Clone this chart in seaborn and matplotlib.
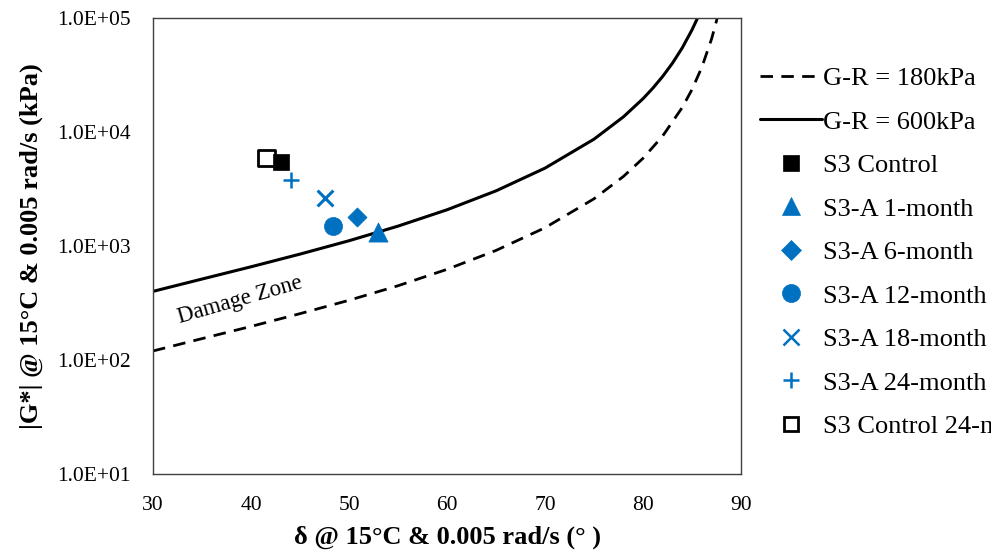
import matplotlib
matplotlib.use("Agg")
import matplotlib.pyplot as plt
import matplotlib.ticker as mticker
from matplotlib.lines import Line2D
import seaborn as sns
import pandas as pd

# G-R curves (phase angle in deg, |G*| in kPa)
gr180_delta = [30, 35, 40, 45, 50, 55, 60, 65, 70, 75, 78, 80, 82, 84, 85, 86, 87, 87.5, 87.7]
gr180_g = [120, 154, 197, 255, 334, 448, 624, 914, 1446, 2595, 4073, 5879, 9203, 16384, 23605, 36902, 65624, 94516, 111670]
gr600_delta = [30, 35, 40, 45, 50, 55, 60, 65, 70, 75, 78, 80, 81, 82, 83, 84, 85, 85.5, 85.7]
gr600_g = [400, 513, 657, 849, 1112, 1494, 2078, 3045, 4820, 8651, 13577, 19596, 24216, 30677, 40098, 54612, 78684, 97166, 106400]

# Sample points
sample_labels = ["S3 Control", "S3-A 1-month", "S3-A 6-month", "S3-A 12-month",
                 "S3-A 18-month", "S3-A 24-month", "S3 Control 24-month"]
sample_delta = [43.1, 53.0, 50.8, 48.4, 47.6, 44.1, 41.6]
sample_g = [5450, 1330, 1800, 1500, 2640, 3800, 5900]

x_ticks = [30, 40, 50, 60, 70, 80, 90]
y_ticks = [1e1, 1e2, 1e3, 1e4, 1e5]

BLUE = "#0070C0"
styles = [
    dict(marker="s", color="black", edgecolor="black", s=140, lw=0.5),
    dict(marker="^", color=BLUE, edgecolor=BLUE, s=190, lw=0.5),
    dict(marker="D", color=BLUE, edgecolor=BLUE, s=95, lw=0.5),
    dict(marker="o", color=BLUE, edgecolor=BLUE, s=170, lw=0.5),
    dict(marker="x", color=BLUE, s=130, lw=2.2),
    dict(marker="+", color=BLUE, s=140, lw=1.8),
    dict(marker="s", color="none", edgecolor="black", s=140, lw=2.0),
]

sns.set_theme(style="white")
plt.rcParams["font.family"] = ["Liberation Serif", "DejaVu Serif"]
for k in ["text.color", "axes.labelcolor", "xtick.color", "ytick.color"]:
    plt.rcParams[k] = "black"

fig = plt.figure(figsize=(9.91, 5.53), dpi=100)
ax = fig.add_axes([153 / 991, 1 - 474 / 553, (741 - 153) / 991, (474 - 18) / 553])

df180 = pd.DataFrame({"d": gr180_delta, "g": gr180_g})
df600 = pd.DataFrame({"d": gr600_delta, "g": gr600_g})
sns.lineplot(data=df180, x="d", y="g", ax=ax, color="black", lw=2.0,
             linestyle=(0, (4.5, 3)), sort=False, label="G-R = 180kPa")
sns.lineplot(data=df600, x="d", y="g", ax=ax, color="black", lw=2.2,
             sort=False, label="G-R = 600kPa")

order = [6, 0, 5, 4, 2, 3, 1]
for i in order:
    st = dict(styles[i])
    sdf = pd.DataFrame({"d": [sample_delta[i]], "g": [sample_g[i]]})
    if st["marker"] in ("x", "+"):
        sns.scatterplot(data=sdf, x="d", y="g", ax=ax, marker=st["marker"], color=st["color"],
                        s=st["s"], linewidth=st["lw"], label=sample_labels[i], zorder=5)
    else:
        sns.scatterplot(data=sdf, x="d", y="g", ax=ax, marker=st["marker"], facecolor=st["color"],
                        edgecolor=st["edgecolor"], s=st["s"], linewidth=st["lw"],
                        label=sample_labels[i], zorder=5)

ax.set_yscale("log")
ax.set_xlim(30, 90)
ax.set_ylim(1e1, 1e5)
ax.set_xticks(x_ticks)
ax.set_yticks(y_ticks)
ax.yaxis.set_minor_locator(mticker.NullLocator())
ax.yaxis.set_major_formatter(mticker.FuncFormatter(lambda v, p: f"{v:.1E}"))
ax.tick_params(axis="x", direction="inout", length=7, width=1, labelsize=15.5, pad=12)
ax.tick_params(axis="y", direction="out", length=6, width=1, labelsize=15.5, pad=10)
for sp in ax.spines.values():
    sp.set_color("#404040")
    sp.set_linewidth(1.0)

ax.set_xlabel("δ @ 15°C & 0.005 rad/s (° )", fontsize=19, fontweight="bold", labelpad=8)
ax.set_ylabel("|G*| @ 15°C & 0.005 rad/s (kPa)", fontsize=19, fontweight="bold", labelpad=10)

ax.text(38.9, 335, "Damage Zone", fontsize=16.5, rotation=16, ha="center", va="center")

# Legend
handles = [
    Line2D([], [], color="black", lw=2.0, linestyle=(0, (4.5, 3))),
    Line2D([], [], color="black", lw=2.2),
]
mk = {"s": 12, "^": 13, "D": 10, "o": 13, "x": 11, "+": 12}
for i in range(7):
    st = styles[i]
    m = st["marker"]
    if m in ("x", "+"):
        handles.append(Line2D([], [], ls="none", marker=m, color=st["color"], markersize=mk[m], mew=1.8))
    else:
        handles.append(Line2D([], [], ls="none", marker=m, markerfacecolor=st["color"],
                              markeredgecolor=st["edgecolor"], markersize=mk[m] if st["color"] != "none" else 10.5,
                              mew=st["lw"] if st["color"] == "none" else 0.5))
labels = ["G-R = 180kPa", "G-R = 600kPa"] + sample_labels
ax.legend(handles, labels, loc="upper left", bbox_to_anchor=(749 / 991, 1 - 56 / 553),
          bbox_transform=fig.transFigure, frameon=False, fontsize=19,
          handlelength=2.35, handletextpad=0.05, labelspacing=0.76, borderaxespad=0)

fig.savefig("out.png", dpi=100)
